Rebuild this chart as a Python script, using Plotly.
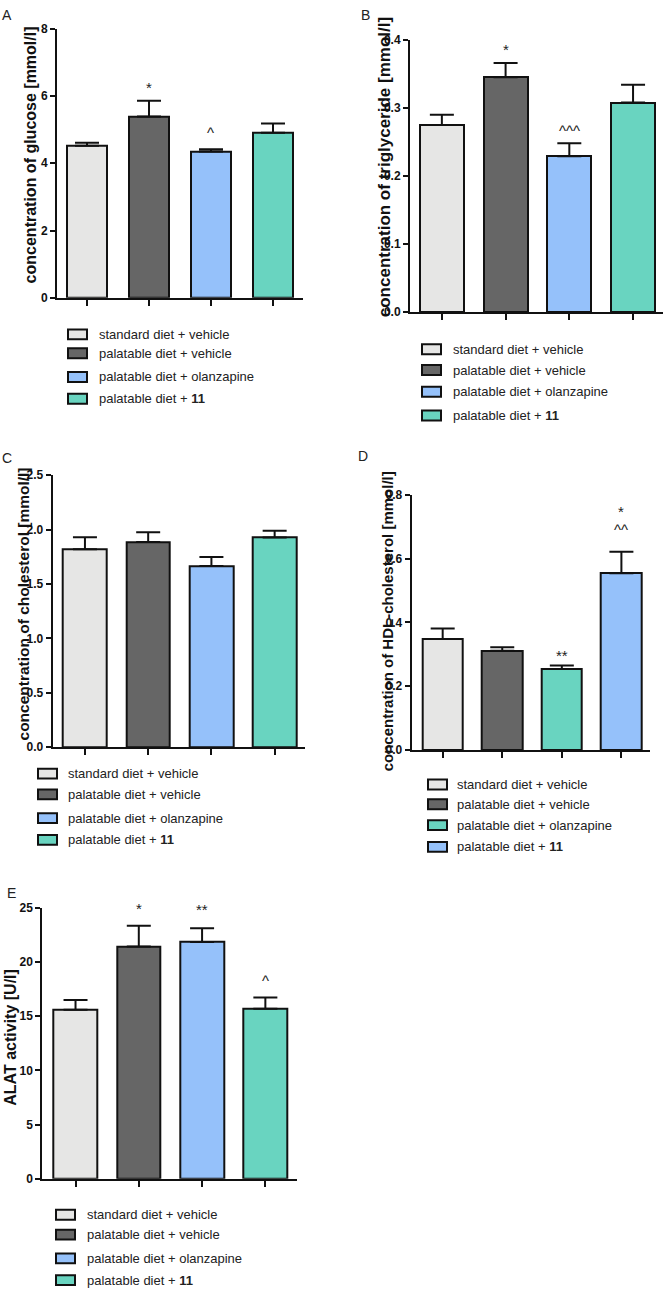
import plotly.graph_objects as go

W, H = 666, 1297

# ---------------- data ----------------
groups = ["standard diet + vehicle", "palatable diet + vehicle",
          "palatable diet + olanzapine", "palatable diet + <b>11</b>"]

glucose_mean = [4.52, 5.39, 4.35, 4.91]
glucose_sem = [0.09, 0.47, 0.07, 0.27]
glucose_marks = [[], ["*"], ["^"], []]

trig_mean = [0.275, 0.345, 0.229, 0.308]
trig_sem = [0.015, 0.021, 0.019, 0.026]
trig_marks = [[], ["*"], ["^^^"], []]

chol_mean = [1.82, 1.887, 1.666, 1.927]
chol_sem = [0.11, 0.088, 0.082, 0.063]
chol_marks = [[], [], [], []]

hdl_mean = [0.348, 0.311, 0.254, 0.554]
hdl_sem = [0.033, 0.011, 0.011, 0.068]
hdl_marks = [[], [], ["**"], ["^^", "*"]]

alat_mean = [15.6, 21.43, 21.85, 15.69]
alat_sem = [0.9, 1.92, 1.28, 1.03]
alat_marks = [[], ["*"], ["**"], ["^"]]

# ---------------- styles ----------------
C_LIGHT = "#e6e6e5"
C_DARK = "#666666"
C_BLUE = "#95c1fa"
C_TEAL = "#69d4c0"
colors_std = [C_LIGHT, C_DARK, C_BLUE, C_TEAL]
colors_hdl = [C_LIGHT, C_DARK, C_TEAL, C_BLUE]

FONT = "Arial, 'Liberation Sans', sans-serif"
INK = "#111111"


def fx(px):
    return px / W


def fy(py):
    return 1 - py / H


# mark_gaps: px between error-bar top and each significance glyph (layout only)
panels = [
    dict(letter="A", mean=glucose_mean, sem=glucose_sem, marks=glucose_marks,
         mark_gaps=[[], [16], [20], []],
         colors=colors_std, title="concentration of glucose [mmol/l]", tsize=16,
         xpx=(57, 303), xr=(-0.484, 3.484), ypx=(22, 294), yr=(0, 8), dtick=2,
         fmt="d", bw=0.66,
         title_pos=(30, 150), letter_pos=(7, 8),
         leg_sw=(68, 87), leg_tx=97, leg_rows=(331, 350, 374, 396)),
    dict(letter="B", mean=trig_mean, sem=trig_sem, marks=trig_marks,
         mark_gaps=[[], [17], [16], []],
         colors=colors_std, title="concentration of triglyceride [mmol/l]",
         tsize=17,
         xpx=(410, 663), xr=(-0.5, 3.47), ypx=(33.3, 308.3), yr=(0, 0.4),
         dtick=0.1, fmt=".1f", bw=0.69,
         title_pos=(384, 162), letter_pos=(365, 8),
         leg_sw=(422, 441), leg_tx=451, leg_rows=(346, 367, 389, 413)),
    dict(letter="C", mean=chol_mean, sem=chol_sem, marks=chol_marks,
         mark_gaps=[[], [], [], []],
         colors=colors_std, title="concentration of cholesterol [mmol/l]",
         tsize=15.5,
         xpx=(52.7, 305), xr=(-0.51, 3.48), ypx=(473.3, 748.3), yr=(0, 2.5),
         dtick=0.5, fmt=".1f", bw=0.69,
         title_pos=(23, 604), letter_pos=(7, 456),
         leg_sw=(38, 57), leg_tx=66, leg_rows=(775, 796, 820, 842)),
    dict(letter="D", mean=hdl_mean, sem=hdl_sem, marks=hdl_marks,
         mark_gaps=[[], [], [13], [25, 44]],
         colors=colors_hdl, title="concentration of HDL-cholesterol [mmol/l]",
         tsize=15,
         xpx=(411.7, 650), xr=(-0.52, 3.48), ypx=(493.3, 751), yr=(0, 0.8),
         dtick=0.2, fmt=".1f", bw=0.68,
         title_pos=(387, 621), letter_pos=(363, 454),
         leg_sw=(428, 447), leg_tx=455, leg_rows=(786, 806, 827, 849)),
    dict(letter="E", mean=alat_mean, sem=alat_sem, marks=alat_marks,
         mark_gaps=[[], [20], [22], [20]],
         colors=colors_std, title="ALAT activity [U/l]", tsize=16,
         xpx=(42.3, 297), xr=(-0.525, 3.5), ypx=(910.7, 1184.5), yr=(0, 25),
         dtick=5, fmt="d", bw=0.69,
         title_pos=(11, 1042), letter_pos=(11, 896),
         leg_sw=(56, 75), leg_tx=85, leg_rows=(1221, 1241, 1265, 1287)),
]

fig = go.Figure()
annotations = []
shapes = []
layout_axes = {}
xs = [0, 1, 2, 3]

for i, p in enumerate(panels):
    n = "" if i == 0 else str(i + 1)
    xa, ya = "x" + n, "y" + n
    fig.add_trace(go.Bar(
        x=xs, y=p["mean"], xaxis=xa, yaxis=ya, width=p["bw"],
        marker=dict(color=p["colors"], line=dict(color=INK, width=2)),
        error_y=dict(type="data", symmetric=False, array=p["sem"],
                     arrayminus=[0] * 4, color=INK, thickness=2, width=12),
        showlegend=False, hoverinfo="skip",
    ))
    layout_axes["xaxis" + n] = dict(
        domain=[fx(p["xpx"][0]), fx(p["xpx"][1])], range=list(p["xr"]),
        anchor=ya, showline=True, linecolor=INK, linewidth=2,
        ticks="outside", ticklen=6, tickwidth=2, tickcolor=INK,
        tickvals=xs, showticklabels=False, showgrid=False, zeroline=False,
        fixedrange=True,
    )
    layout_axes["yaxis" + n] = dict(
        domain=[fy(p["ypx"][1]), fy(p["ypx"][0])], range=list(p["yr"]),
        anchor=xa, showline=True, linecolor=INK, linewidth=2,
        ticks="outside", ticklen=5, tickwidth=2, tickcolor=INK,
        dtick=p["dtick"], tick0=0, tickformat=p["fmt"],
        tickfont=dict(family=FONT, size=12, color=INK, weight="bold"),
        showgrid=False, zeroline=False, fixedrange=True,
    )
    # significance marks (placed in paper space so they may sit above the axis top)
    y0px, y1px = p["ypx"]
    r0, r1 = p["yr"]
    x0px, x1px = p["xpx"]
    q0, q1 = p["xr"]
    for k, ms in enumerate(p["marks"]):
        top_val = p["mean"][k] + p["sem"][k]
        top_px = y1px - (top_val - r0) / (r1 - r0) * (y1px - y0px)
        cx_px = x0px + (k - q0) / (q1 - q0) * (x1px - x0px)
        for j, m in enumerate(ms):
            glyph_px = top_px - p["mark_gaps"][k][j]
            annotations.append(dict(
                x=fx(cx_px), y=fy(glyph_px + 3), xref="paper", yref="paper",
                text=m, showarrow=False, yanchor="middle", xanchor="center",
                font=dict(family=FONT, size=15, color="#222222")))
    # y title
    annotations.append(dict(
        x=fx(p["title_pos"][0]), y=fy(p["title_pos"][1]), xref="paper",
        yref="paper", text="<b>" + p["title"] + "</b>", textangle=-90,
        showarrow=False, xanchor="center", yanchor="middle",
        font=dict(family=FONT, size=p["tsize"], color=INK)))
    # panel letter
    annotations.append(dict(
        x=fx(p["letter_pos"][0]), y=fy(p["letter_pos"][1]), xref="paper",
        yref="paper", text=p["letter"], showarrow=False,
        xanchor="center", yanchor="middle",
        font=dict(family=FONT, size=14, color="#222222")))
    # legend
    for k, g in enumerate(groups):
        yc = p["leg_rows"][k]
        shapes.append(dict(
            type="rect", xref="paper", yref="paper",
            x0=fx(p["leg_sw"][0]), x1=fx(p["leg_sw"][1]),
            y0=fy(yc + 5), y1=fy(yc - 5),
            fillcolor=p["colors"][k],
            line=dict(color=INK, width=2)))
        annotations.append(dict(
            x=fx(p["leg_tx"]), y=fy(yc), xref="paper", yref="paper",
            text=g, showarrow=False, xanchor="left", yanchor="middle",
            font=dict(family=FONT, size=13, color="#222222")))

fig.update_layout(
    width=W, height=H, margin=dict(l=0, r=0, t=0, b=0),
    paper_bgcolor="white", plot_bgcolor="white",
    annotations=annotations, shapes=shapes, showlegend=False,
    bargap=0, **layout_axes,
)

fig.write_html(
    "out.html",
    config={"displayModeBar": False},
    post_script="document.body.style.margin='0';document.body.style.overflow='hidden';",
)
